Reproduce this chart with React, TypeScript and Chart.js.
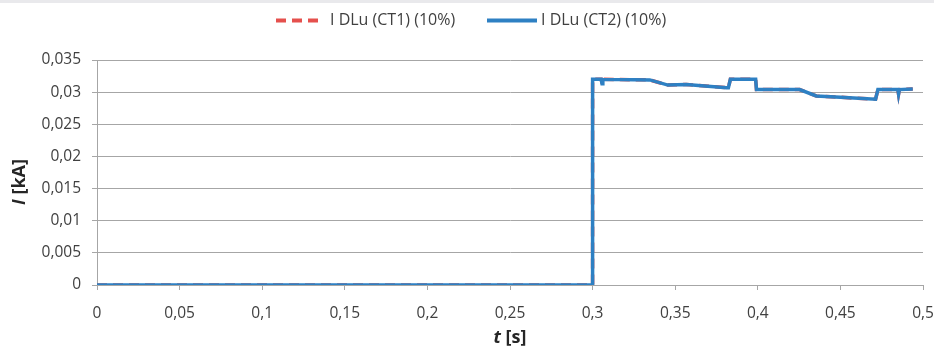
import { useEffect, useRef } from 'react';
import { Chart, registerables } from 'chart.js';

Chart.register(...registerables);

const seriesNames = ['I DLu (CT1) (10%)', 'I DLu (CT2) (10%)'];

// time [s]
const timeS = [
  0, 0.3, 0.3, 0.3052, 0.3057, 0.3062, 0.3346, 0.3456, 0.3567, 0.381, 0.3822,
  0.3834, 0.3987, 0.3992, 0.4253, 0.4354, 0.45, 0.4713, 0.4727, 0.4848, 0.4852,
  0.4857, 0.4938,
];

// current [kA]
const currentCT1 = [
  0, 0, 0.032, 0.032, 0.0313, 0.032, 0.0319, 0.0311, 0.0312, 0.0307, 0.0307,
  0.032, 0.032, 0.0304, 0.0304, 0.0294, 0.0292, 0.0289, 0.0304, 0.0304, 0.0297,
  0.0304, 0.0305,
];

const currentCT2 = [
  0, 0, 0.032, 0.032, 0.0313, 0.032, 0.0319, 0.0311, 0.0312, 0.0307, 0.0307,
  0.032, 0.032, 0.0304, 0.0304, 0.0294, 0.0292, 0.0289, 0.0304, 0.0304, 0.0297,
  0.0304, 0.0305,
];

const xMin = 0;
const xMax = 0.5;
const xStep = 0.05;
const yMin = 0;
const yMax = 0.035;
const yStep = 0.005;

const RED = '#E5504D';
const BLUE = '#2E80C3';
const GRID = '#a6a6a6';
const TICK_COLOR = '#404040';
const TITLE_COLOR = '#262626';
const FONT = "'Open Sans', 'Noto Sans', sans-serif";

const fmt = (v: number, digits: number) =>
  (Math.round(v * Math.pow(10, digits)) / Math.pow(10, digits)).toString().replace('.', ',');

const decorPlugin = {
  id: 'decor',
  afterDraw(chart: any) {
    const { ctx, chartArea } = chart;
    ctx.save();
    // legend
    ctx.lineCap = 'butt';
    ctx.lineWidth = 4;
    ctx.strokeStyle = RED;
    ctx.setLineDash([10, 6]);
    ctx.beginPath();
    ctx.moveTo(276, 20.5);
    ctx.lineTo(322, 20.5);
    ctx.stroke();
    ctx.setLineDash([]);
    ctx.strokeStyle = BLUE;
    ctx.beginPath();
    ctx.moveTo(487, 20.5);
    ctx.lineTo(537, 20.5);
    ctx.stroke();

    ctx.fillStyle = TICK_COLOR;
    ctx.font = `16px ${FONT}`;
    ctx.textBaseline = 'middle';
    ctx.textAlign = 'left';
    ctx.fillText(seriesNames[0], 330, 20);
    ctx.fillText(seriesNames[1], 541, 20);

    // axis titles
    ctx.fillStyle = TITLE_COLOR;
    const fItalic = `italic bold 18px ${FONT}`;
    const fBold = `bold 18px ${FONT}`;
    const drawMixed = (a: string, b: string, cx: number, cy: number) => {
      ctx.font = fItalic;
      const wa = ctx.measureText(a).width;
      ctx.font = fBold;
      const wb = ctx.measureText(b).width;
      const start = cx - (wa + wb) / 2;
      ctx.font = fItalic;
      ctx.fillText(a, start, cy);
      ctx.font = fBold;
      ctx.fillText(b, start + wa, cy);
    };
    const xc = (chartArea.left + chartArea.right) / 2;
    drawMixed('t', ' [s]', xc, 338);

    ctx.save();
    ctx.translate(20, 182);
    ctx.rotate(-Math.PI / 2);
    drawMixed('I', ' [kA]', 0, 0);
    ctx.restore();

    ctx.restore();
  },
};

export default function App() {
  const canvasRef = useRef<HTMLCanvasElement | null>(null);

  useEffect(() => {
    if (!canvasRef.current) return;
    const toPoints = (ys: number[]) => timeS.map((t, i) => ({ x: t, y: ys[i] }));
    const chart = new Chart(canvasRef.current, {
      type: 'line',
      data: {
        datasets: [
          {
            label: seriesNames[0],
            data: toPoints(currentCT1),
            borderColor: RED,
            borderWidth: 3.5,
            borderDash: [10, 6],
            pointRadius: 0,
            fill: false,
            tension: 0,
            order: 2,
          },
          {
            label: seriesNames[1],
            data: toPoints(currentCT2),
            borderColor: BLUE,
            borderWidth: 3.5,
            pointRadius: 0,
            fill: false,
            tension: 0,
            order: 1,
          },
        ],
      },
      options: {
        animation: false,
        responsive: false,
        maintainAspectRatio: false,
        layout: { padding: { left: 0, right: 11, top: 60, bottom: 0 } },
        plugins: {
          legend: { display: false },
          tooltip: { enabled: false },
        },
        scales: {
          x: {
            type: 'linear',
            min: xMin,
            max: xMax,
            ticks: {
              stepSize: xStep,
              color: TICK_COLOR,
              font: { family: FONT, size: 15.5 },
              padding: 14,
              maxRotation: 0,
              callback: (v: any) => fmt(Number(v), 2),
            },
            grid: { drawOnChartArea: false, tickLength: 5, color: GRID },
            border: { color: GRID },
            afterFit: (s: any) => {
              s.height = 64;
              s.paddingLeft = 0;
              s.paddingRight = 0;
            },
          },
          y: {
            min: yMin,
            max: yMax,
            ticks: {
              stepSize: yStep,
              color: TICK_COLOR,
              font: { family: FONT, size: 15.5 },
              padding: 11,
              callback: (v: any) => fmt(Number(v), 3),
            },
            grid: { tickLength: 5, color: GRID },
            border: { color: GRID },
            afterFit: (s: any) => {
              s.width = 97;
              s.paddingTop = 0;
              s.paddingBottom = 0;
            },
          },
        },
      },
      plugins: [decorPlugin],
    });
    return () => chart.destroy();
  }, []);

  return (
    <div style={{ position: 'fixed', left: 0, top: 0, width: 934, height: 349, background: '#fff' }}>
      <div style={{ position: 'absolute', left: 0, top: 0, width: 934, height: 3, background: '#e9e9ec' }} />
      <canvas ref={canvasRef} width={934} height={349} style={{ display: 'block' }} />
    </div>
  );
}
